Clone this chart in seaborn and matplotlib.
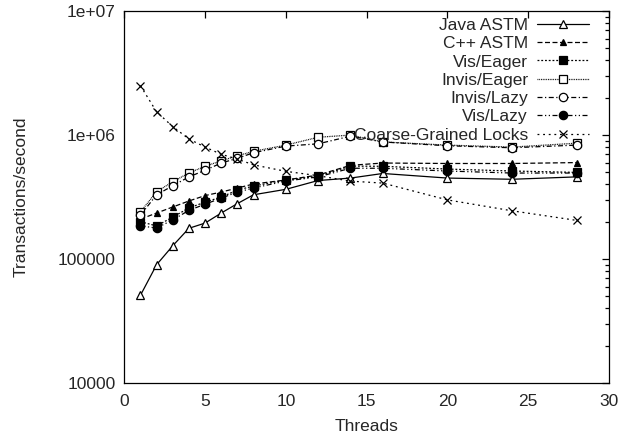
import numpy as np
import matplotlib
matplotlib.use('Agg')
import matplotlib.pyplot as plt
import seaborn as sb
from matplotlib.ticker import FixedLocator, FixedFormatter, LogLocator, NullFormatter

threads = [1, 2, 3, 4, 5, 6, 7, 8, 10, 12, 14, 16, 20, 24, 28]

java_astm = [5.1e4, 9.0e4, 1.28e5, 1.77e5, 1.95e5, 2.35e5, 2.8e5, 3.3e5, 3.65e5, 4.3e5, 4.5e5, 4.9e5, 4.5e5, 4.4e5, 4.6e5]
cpp_astm = [2.1e5, 2.35e5, 2.63e5, 2.94e5, 3.25e5, 3.47e5, 3.74e5, 4.03e5, 4.34e5, 4.76e5, 5.7e5, 5.95e5, 5.9e5, 5.9e5, 6.0e5]
vis_eager = [2.0e5, 1.85e5, 2.18e5, 2.58e5, 2.88e5, 3.16e5, 3.6e5, 3.88e5, 4.34e5, 4.66e5, 5.62e5, 5.6e5, 5.32e5, 5.13e5, 5.0e5]
invis_eager = [2.4e5, 3.5e5, 4.2e5, 4.95e5, 5.6e5, 6.2e5, 6.8e5, 7.4e5, 8.3e5, 9.6e5, 1.0e6, 8.8e5, 8.3e5, 8.0e5, 8.6e5]
invis_lazy = [2.26e5, 3.3e5, 3.9e5, 4.6e5, 5.2e5, 5.95e5, 6.5e5, 7.2e5, 8.15e5, 8.5e5, 9.8e5, 8.8e5, 8.2e5, 7.9e5, 8.3e5]
vis_lazy = [1.85e5, 1.78e5, 2.07e5, 2.47e5, 2.77e5, 3.1e5, 3.47e5, 3.74e5, 4.26e5, 4.6e5, 5.4e5, 5.4e5, 5.13e5, 4.94e5, 4.94e5]
coarse_locks = [2.5e6, 1.54e6, 1.17e6, 9.3e5, 8.0e5, 7.0e5, 6.4e5, 5.75e5, 5.1e5, 4.7e5, 4.25e5, 4.1e5, 3.0e5, 2.45e5, 2.05e5]

labels = ['Java ASTM', 'C++ ASTM', 'Vis/Eager', 'Invis/Eager', 'Invis/Lazy', 'Vis/Lazy', 'Coarse-Grained Locks']
series = [java_astm, cpp_astm, vis_eager, invis_eager, invis_lazy, vis_lazy, coarse_locks]

ytick_vals = [1e4, 1e5, 1e6, 1e7]
ytick_labels = ['10000', '100000', '1e+06', '1e+07']
xtick_vals = [0, 5, 10, 15, 20, 25, 30]

# (marker, filled, linestyle, markersize)
styles = [
	('^', False, '-', 6),
	('^', True, (0, (4, 2)), 5),
	('s', True, (0, (1.5, 1.5)), 6),
	('s', False, (0, (0.7, 0.7)), 6),
	('o', False, (0, (4, 2, 1, 2)), 6),
	('o', True, (0, (4, 2, 1, 2, 1, 2)), 6),
	('x', False, (0, (1.5, 3)), 6),
]

sb.set_style('white')
plt.rcParams['font.family'] = ['Liberation Sans', 'DejaVu Sans']

fig = plt.figure(figsize=(6.31, 4.38), dpi=100)
ax = fig.add_axes([0.197, 0.1256, 0.768, 0.849])

for lab, vals, (mk, filled, ls, ms) in zip(labels, series, styles):
	sb.lineplot(x=threads, y=vals, ax=ax, color='black', linewidth=0.9, linestyle=ls,
		marker=mk, markersize=ms, markeredgewidth=0.9, markeredgecolor='black',
		markerfacecolor='black' if filled else 'white', label=lab)

ax.set_yscale('log')
ax.set_xlim(0, 30)
ax.set_ylim(1e4, 1e7)
ax.xaxis.set_major_locator(FixedLocator(xtick_vals))
ax.yaxis.set_major_locator(FixedLocator(ytick_vals))
ax.yaxis.set_major_formatter(FixedFormatter(ytick_labels))
ax.yaxis.set_minor_locator(LogLocator(base=10, subs=np.arange(2, 10)))
ax.yaxis.set_minor_formatter(NullFormatter())
ax.tick_params(which='both', direction='in', top=True, right=True, labelsize=12.5, color='black', width=0.9)
ax.tick_params(which='major', length=5, pad=6)
ax.tick_params(axis='x', which='major', pad=8)
ax.tick_params(which='minor', length=3)
for sp in ax.spines.values():
	sp.set_color('black')
	sp.set_linewidth(0.9)

ax.set_xlabel('Threads', fontsize=12.5, labelpad=7)
ax.set_ylabel('Transactions/second', fontsize=12.5, labelpad=21)

# gnuplot style key: text right-aligned, sample on the right
ax.legend(loc='upper right', bbox_to_anchor=(0.98, 1.01), frameon=False, markerfirst=False,
	fontsize=12.5, handlelength=3.0, labelspacing=0.18, handletextpad=0.5, borderpad=0.1)

fig.savefig('out.png', dpi=100)
